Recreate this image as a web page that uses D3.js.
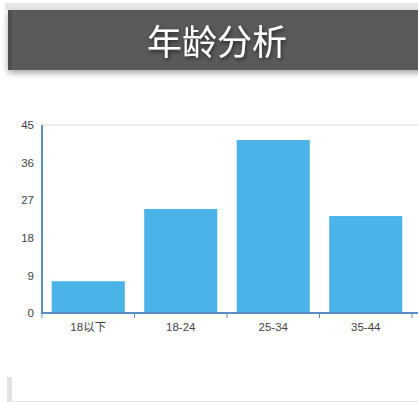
<!DOCTYPE html>
<html><head><meta charset="utf-8">
<script src="https://cdn.jsdelivr.net/npm/d3@7"></script>
<style>
html,body{margin:0;padding:0;background:#fff;overflow:hidden;}
svg{display:block;}
</style></head>
<body><svg id="c" width="418" height="402"></svg>
<script>
const title = "年龄分析";
const categories = ["18以下", "18-24", "25-34", "35-44"];
const values = [7.6, 24.9, 41.4, 23.2];
const yTicks = [0, 9, 18, 27, 36, 45];

const svg = d3.select("#c");
const W = 418, H = 402;

// header
const defs = svg.append("defs");
const f = defs.append("filter").attr("id","sh").attr("x","-10%").attr("y","-20%").attr("width","130%").attr("height","160%");
f.append("feDropShadow").attr("dx",0).attr("dy",3).attr("stdDeviation",3).attr("flood-color","#000").attr("flood-opacity",0.35);
const ts = defs.append("filter").attr("id","ts").attr("x","-10%").attr("y","-30%").attr("width","120%").attr("height","160%");
ts.append("feDropShadow").attr("dx",1).attr("dy",2).attr("stdDeviation",2).attr("flood-color","#000").attr("flood-opacity",0.6);

svg.append("rect").attr("x",5).attr("y",3).attr("width",W).attr("height",8).attr("fill","#e8e8e8");
svg.append("rect").attr("x",8).attr("y",10).attr("width",W).attr("height",60).attr("fill","#5a5a5a").attr("filter","url(#sh)");
svg.append("rect").attr("x",8).attr("y",10).attr("width",4).attr("height",60).attr("fill","#4e4e4e");
svg.append("text").attr("x",217).attr("y",55).attr("text-anchor","middle")
  .attr("font-family","'Noto Sans CJK SC', sans-serif").attr("font-size",35).attr("fill","#fff")
  .attr("filter","url(#ts)").text(title);

// chart
const x0 = 42, yTop = 125, yBot = 313;
const step = 92.5;
const x = d3.scaleBand().domain(categories).range([x0, x0 + step*categories.length]).paddingInner(0.21).paddingOuter(0.105);
const y = d3.scaleLinear().domain([0,45]).range([yBot, yTop]);

// top grid line
svg.append("line").attr("x1",x0).attr("x2",W).attr("y1",y(45)).attr("y2",y(45)).attr("stroke","#d8d8d8").attr("stroke-width",1);

svg.append("g").selectAll("rect").data(values).join("rect")
  .attr("x",(d,i)=>x(categories[i])).attr("width",x.bandwidth())
  .attr("y",d=>y(d)).attr("height",d=>yBot-y(d)).attr("fill","#4ab3e8");

// y axis
const ya = svg.append("g").attr("transform",`translate(${x0},0)`)
  .call(d3.axisLeft(y).tickValues(yTicks).tickSize(0).tickPadding(8));
ya.select(".domain").remove();
ya.selectAll("text").attr("font-family","Arial, 'Liberation Sans', sans-serif").attr("font-size",11.5).attr("fill","#444");
svg.append("line").attr("x1",x0).attr("x2",x0).attr("y1",yTop).attr("y2",yBot+1).attr("stroke","#5a8fc2").attr("stroke-width",2);

// x axis
svg.append("line").attr("x1",x0-1).attr("x2",W).attr("y1",yBot).attr("y2",yBot).attr("stroke","#5a8fc2").attr("stroke-width",2);
const bounds = categories.map(c => x(c) - x.step()*x.paddingOuter()).concat([x0 + step*categories.length]);
svg.append("g").selectAll("line").data(bounds).join("line")
  .attr("x1",d=>d).attr("x2",d=>d).attr("y1",yBot).attr("y2",yBot+5).attr("stroke","#5a8fc2").attr("stroke-width",1);
svg.append("g").selectAll("text").data(categories).join("text")
  .attr("x",d=>x(d)+x.bandwidth()/2).attr("y",yBot+18).attr("text-anchor","middle")
  .attr("font-family","Arial, 'Liberation Sans', 'Noto Sans CJK SC', sans-serif").attr("font-size",11.5).attr("fill","#444").text(d=>d);

// bottom box
svg.append("rect").attr("x",7).attr("y",377).attr("width",5).attr("height",25).attr("fill","#e2e2e2");
svg.append("line").attr("x1",7).attr("x2",W).attr("y1",401.5).attr("y2",401.5).attr("stroke","#e6e6e6");
</script></body></html>
